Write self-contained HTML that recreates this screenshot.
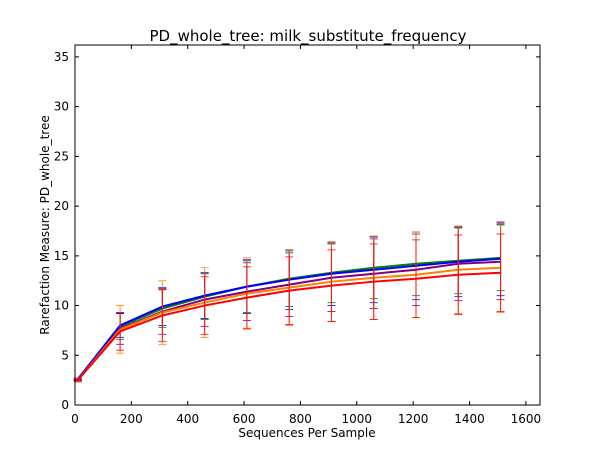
<!DOCTYPE html>
<html><head><meta charset="utf-8"><style>
html,body{margin:0;padding:0;background:#fff;width:600px;height:450px;overflow:hidden}
svg text{font-family:"DejaVu Sans","Liberation Sans",sans-serif;fill:#000}
</style></head><body>
<svg id="chart" width="600" height="450" xmlns="http://www.w3.org/2000/svg">
<rect width="600" height="450" fill="#fff"/>
<g id="marks"></g>
<rect x="75" y="45" width="465" height="360" fill="none" stroke="#000" stroke-width="1"/>
<g id="axes"></g>
<text x="308" y="41" font-size="15" text-anchor="middle">PD_whole_tree: milk_substitute_frequency</text>
<text x="307" y="437" font-size="12" text-anchor="middle">Sequences Per Sample</text>
<text x="0" y="0" font-size="12" text-anchor="middle" transform="translate(49,225) rotate(-90)">Rarefaction Measure: PD_whole_tree</text>
</svg>
<script>
const xs=[10,160,310,460,610,760,910,1060,1210,1360,1510];
const seriesNames=["green","blue","purple","orange","red"];
const seriesColors=["#008000","#0000ff","#800080","#ff7f00","#ff0000"];
const greenMean=[2.6,7.9,9.7,10.9,11.9,12.7,13.3,13.8,14.2,14.5,14.8];
const blueMean=[2.6,8.0,9.9,11.0,11.9,12.6,13.2,13.6,14.0,14.4,14.7];
const purpleMean=[2.5,7.7,9.4,10.6,11.4,12.1,12.8,13.2,13.6,14.2,14.4];
const orangeMean=[2.5,7.6,9.3,10.3,11.2,11.8,12.4,12.8,13.1,13.6,13.8];
const redMean=[2.5,7.4,9.0,10.0,10.8,11.5,12.0,12.4,12.7,13.1,13.3];
const greenErr=[0.1,1.3,1.9,2.3,2.6,2.8,3.0,3.1,3.2,3.3,3.3];
const blueErr=[0.1,1.2,1.9,2.3,2.7,3.0,3.2,3.3,3.4,3.5,3.7];
const purpleErr=[0.1,1.6,2.3,2.7,2.9,3.2,3.4,3.5,3.6,3.7,3.8];
const orangeErr=[0.2,2.4,3.2,3.5,3.6,3.8,4.0,4.2,4.3,4.4,4.5];
const redErr=[0.1,1.9,2.6,2.9,3.1,3.4,3.6,3.8,3.9,4.0,3.9];
const xTicks=[0,200,400,600,800,1000,1200,1400,1600];
const yTicks=[0,5,10,15,20,25,30,35];

const NS="http://www.w3.org/2000/svg";
const X0=75,X1=540,Y0=405,Y1=45,XMAX=1650,YMAX=36.2;
function sx(v){return X0+v/XMAX*(X1-X0);}
function sy(v){return Y0-v/YMAX*(Y0-Y1);}
function mk(tag,attrs,parent){const e=document.createElementNS(NS,tag);for(const k in attrs)e.setAttribute(k,attrs[k]);parent.appendChild(e);return e;}
const marks=document.getElementById('marks');
const axes=document.getElementById('axes');
const means=[greenMean,blueMean,purpleMean,orangeMean,redMean];
const errs=[greenErr,blueErr,purpleErr,orangeErr,redErr];
means.forEach((m,si)=>{
  const g=mk('g',{},marks);
  
  
  const c=seriesColors[si];
  xs.forEach((x,i)=>{
    const px=sx(x),lo=sy(m[i]-errs[si][i]),hi=sy(m[i]+errs[si][i]);
    const eb=mk('path',{d:`M${px},${lo}V${hi}M${px-4},${lo}H${px+4}M${px-4},${hi}H${px+4}`,stroke:c,'stroke-width':1,fill:'none','stroke-opacity':0.8},g);
    
    
  });
  const d=xs.map((x,i)=>(i?'L':'M')+sx(x)+','+sy(m[i])).join('');
  const ln=mk('path',{d:d,stroke:c,'stroke-width':2,fill:'none'},g);
  
  
});
xTicks.forEach(t=>{
  const px=sx(t);
  mk('path',{d:`M${px},${Y0}v-4M${px},${Y1}v4`,stroke:'#000','stroke-width':1},axes);
  const tx=mk('text',{x:px,y:Y0+18,'font-size':12,'text-anchor':'middle'},axes);
  tx.textContent=t;
  
  
});
yTicks.forEach(t=>{
  const py=sy(t);
  mk('path',{d:`M${X0},${py}h4M${X1},${py}h-4`,stroke:'#000','stroke-width':1},axes);
  const tx=mk('text',{x:X0-6,y:py+4,'font-size':12,'text-anchor':'end'},axes);
  tx.textContent=t;
  
  
});
</script>
</body></html>
